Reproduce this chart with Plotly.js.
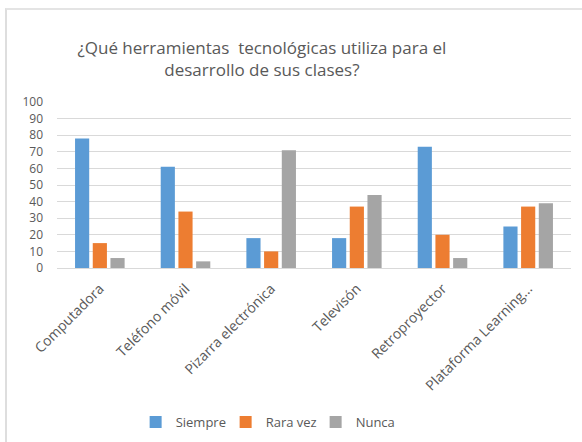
<!DOCTYPE html>
<html>
<head>
<meta charset="utf-8">
<script src="https://cdn.plot.ly/plotly-3.0.1.min.js"></script>
<style>
html,body{margin:0;padding:0;background:#fff;}
#wrap{position:relative;width:582px;height:442px;overflow:hidden;}
#frame{position:absolute;left:5px;top:8px;width:700px;height:600px;border-left:2px solid #dedede;border-top:2px solid #e4e4e4;}
#chart{position:absolute;left:0;top:0;width:582px;height:442px;}
</style>
</head>
<body>
<div id="wrap"><div id="frame"></div><div id="chart"></div></div>
<script>
const categories = ["Computadora", "Teléfono móvil", "Pizarra electrónica", "Televisón", "Retroproyector", "Plataforma Learning..."];
const siempre = [78, 61, 18, 18, 73, 25];
const raraVez = [15, 34, 10, 37, 20, 37];
const nunca = [6, 4, 71, 44, 6, 39];
const yTicks = [0, 10, 20, 30, 40, 50, 60, 70, 80, 90, 100];

const font = "'Open Sans', Lato, sans-serif";
const gray = "#595959";
const traces = [
  {type: "bar", name: "Siempre", x: categories, y: siempre, marker: {color: "#5B9BD5"}},
  {type: "bar", name: "Rara vez", x: categories, y: raraVez, marker: {color: "#ED7D31"}},
  {type: "bar", name: "Nunca", x: categories, y: nunca, marker: {color: "#A5A5A5"}}
];
const layout = {
  width: 582, height: 442,
  margin: {l: 57, r: 11, t: 102, b: 174},
  paper_bgcolor: "rgba(0,0,0,0)",
  plot_bgcolor: "rgba(0,0,0,0)",
  font: {family: font, color: gray, size: 13},
  title: {
    text: "¿Qué herramientas  tecnológicas utiliza para el<br>desarrollo de sus clases?",
    font: {family: font, size: 17, color: gray},
    x: 0.45, xanchor: "center", xref: "container",
    y: 0.878, yanchor: "top", yref: "container"
  },
  barmode: "group",
  bargap: 0.38,
  bargroupgap: 0.2,
  xaxis: {
    tickangle: -45,
    tickfont: {family: font, size: 14, color: gray},
    showgrid: false, showline: true, linecolor: "#d9d9d9", linewidth: 1,
    ticks: "", automargin: false, ticklabelstandoff: 6
  },
  yaxis: {
    range: [0, 100], tickvals: yTicks,
    tickfont: {family: font, size: 12, color: gray},
    showgrid: true, gridcolor: "#d9d9d9", gridwidth: 1,
    zeroline: false, showline: false, ticks: "", ticklabelstandoff: 13, automargin: false
  },
  legend: {
    orientation: "h", x: 0.465, xanchor: "center", xref: "container",
    y: 0.045, yanchor: "middle", yref: "container",
    font: {family: font, size: 13, color: gray}, itemwidth: 30, traceorder: "normal",
    entrywidth: 45, entrywidthmode: "pixels"
  },
  showlegend: true
};
Plotly.newPlot("chart", traces, layout, {displayModeBar: false, staticPlot: true});
</script>
</body>
</html>
